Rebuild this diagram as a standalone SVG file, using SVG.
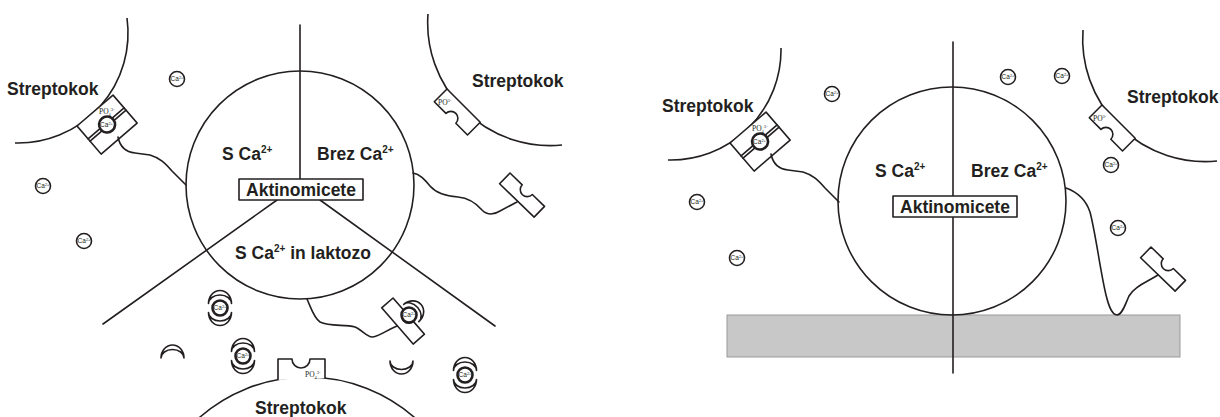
<svg xmlns="http://www.w3.org/2000/svg" width="1220" height="417" viewBox="0 0 1220 417">
  <style>
    .ln { fill: none; stroke: #231f20; stroke-width: 1.6; stroke-linecap: round; stroke-linejoin: round; }
    .cell { fill: none; stroke: #231f20; stroke-width: 1.6; }
    .box { fill: #fff; stroke: #231f20; stroke-width: 1.6; stroke-linejoin: round; }
    .ion { fill: #fff; stroke: #231f20; stroke-width: 1.6; }
    .ring { fill: #fff; stroke: #231f20; stroke-width: 2.6; }
    .lbl { font-family: "Liberation Sans", Arial, sans-serif; font-weight: bold; font-size: 17.5px; fill: #231f20; }
    .sup { font-size: 10px; }
    .ionlbl { font-family: "Liberation Sans", Arial, sans-serif; font-size: 6.5px; fill: #231f20; text-anchor: middle; }
    .po { font-family: "Liberation Serif", "Times New Roman", serif; font-size: 7.5px; fill: #231f20; }
  </style>
  <defs>
    <!-- receptor on a connector: notch on the y=0 side -->
    <path id="receptor" class="box" d="M0,0 H17 A7,7 0 0 0 31,0 H48 V15 H0 Z"/>
    <!-- phosphate site on a cell wall: notch on the outer side -->
    <path id="site" class="box" d="M0,0 V18 H16.5 A7,7 0 0 1 30.5,18 H47 V0 Z"/>
    <!-- crescent, horns on the x axis, bulging towards -y -->
    <path id="crescent" class="box" d="M-11.5,0 A11.5,13 0 0 1 11.5,0 A11.5,8.5 0 0 0 -11.5,0 Z"/>
  </defs>

  <!-- ===== left panel ===== -->
  <g id="cell-left-top">
    <path class="cell" d="M127,18 A110,110 0 0 1 15,143"/>
    <text class="lbl" x="7" y="95">Streptokok</text>
  </g>
  <g id="site-left-top">
    <g transform="translate(77,126) rotate(-40.7)">
      <rect class="box" x="0" y="0" width="47.5" height="37"/>
      <line class="ln" x1="0" y1="17" x2="47.5" y2="17" stroke-width="1.2"/>
      <line class="ln" x1="0" y1="20" x2="47.5" y2="20" stroke-width="1.2"/>
      <circle class="ring" cx="23.75" cy="18.5" r="8"/>
    </g>
    <text class="po" x="99" y="114">PO<tspan dy="1.5" font-size="4.5">4</tspan><tspan dy="-5" font-size="4.5">3-</tspan></text>
    <text class="ionlbl" x="106.5" y="127">Ca<tspan dy="-2.5" font-size="4">2+</tspan></text>
  </g>

  <g id="cell-right-top">
    <path class="cell" d="M428,14 A122.6,122.6 0 0 0 562,145"/>
    <use href="#site" transform="translate(447,89) rotate(45)"/>
    <text class="po" x="438" y="105">PO<tspan dy="-3" font-size="4.5">3-</tspan></text>
    <text class="lbl" x="472" y="87">Streptokok</text>
  </g>

  <g id="cell-bottom">
    <circle class="cell" cx="307" cy="540" r="163"/>
    <path class="box" d="M278,380 V359 H292 A9,9 0 0 0 310,359 H325 V378"/>
    <text class="po" x="305" y="377">PO<tspan dy="1.5" font-size="4.5">4</tspan><tspan dy="-5" font-size="4.5">3-</tspan></text>
    <text class="lbl" x="255" y="414">Streptokok</text>
  </g>

  <g id="actino-left">
    <circle class="cell" cx="300" cy="185" r="114"/>
    <line class="ln" x1="300" y1="25" x2="300" y2="180"/>
    <line class="ln" x1="277" y1="200" x2="103" y2="324"/>
    <line class="ln" x1="320" y1="200" x2="495" y2="326"/>
    <rect class="box" x="239" y="179" width="124" height="21"/>
    <text class="lbl" x="301" y="196" text-anchor="middle">Aktinomicete</text>
    <text class="lbl" x="222" y="160">S Ca<tspan class="sup" dy="-7">2+</tspan></text>
    <text class="lbl" x="317" y="160">Brez Ca<tspan class="sup" dy="-7">2+</tspan></text>
    <text class="lbl" x="235" y="259">S Ca<tspan class="sup" dy="-7">2+</tspan><tspan dy="7"> in laktozo</tspan></text>
  </g>

  <g id="receptor-left-free">
    <use href="#receptor" transform="translate(510,173) rotate(44)"/>
  </g>

  <g id="receptor-left-bound">
    <use href="#receptor" transform="translate(393,298) rotate(49)"/>
    <use href="#crescent" transform="translate(409,315) rotate(49) translate(0,-3)"/>
    <circle class="ring" cx="409" cy="315" r="7.5"/>
    <text class="ionlbl" x="409" y="317">Ca<tspan dy="-2.5" font-size="4">2+</tspan></text>
  </g>

  <g id="ca-pairs">
    <g transform="translate(220,308)">
      <use href="#crescent" transform="translate(0,-4.5)"/>
      <use href="#crescent" transform="translate(0,4.5) rotate(180)"/>
      <circle class="ring" r="7.5"/>
      <text class="ionlbl" y="2">Ca<tspan dy="-2.5" font-size="4">2+</tspan></text>
    </g>
    <g transform="translate(243,356)">
      <use href="#crescent" transform="translate(0,-4.5)"/>
      <use href="#crescent" transform="translate(0,4.5) rotate(180)"/>
      <circle class="ring" r="7.5"/>
      <text class="ionlbl" y="2">Ca<tspan dy="-2.5" font-size="4">2+</tspan></text>
    </g>
    <g transform="translate(465,375)">
      <use href="#crescent" transform="translate(0,-4.5)"/>
      <use href="#crescent" transform="translate(0,4.5) rotate(180)"/>
      <circle class="ring" r="7.5"/>
      <text class="ionlbl" y="2">Ca<tspan dy="-2.5" font-size="4">2+</tspan></text>
    </g>
    <use href="#crescent" transform="translate(172.5,358)"/>
    <use href="#crescent" transform="translate(401.5,361) rotate(180)"/>
  </g>

  <g id="ions-left">
    <g transform="translate(177,79)"><circle class="ion" r="7.5"/><text class="ionlbl" y="2">Ca<tspan dy="-2.5" font-size="4">2+</tspan></text></g>
    <g transform="translate(43,186)"><circle class="ion" r="7.5"/><text class="ionlbl" y="2">Ca<tspan dy="-2.5" font-size="4">2+</tspan></text></g>
    <g transform="translate(84,241)"><circle class="ion" r="7.5"/><text class="ionlbl" y="2">Ca<tspan dy="-2.5" font-size="4">2+</tspan></text></g>
  </g>

  <!-- ===== right panel ===== -->
  <rect id="surface" x="727" y="315" width="453" height="42" fill="#c8c8c8" stroke="#9a9a9a" stroke-width="1"/>

  <g id="cell-right-left">
    <path class="cell" d="M781,48 A110,110 0 0 1 668,160"/>
    <text class="lbl" x="662" y="112">Streptokok</text>
  </g>
  <g id="site-right-left">
    <g transform="translate(730,143) rotate(-40.7)">
      <rect class="box" x="0" y="0" width="47.5" height="37"/>
      <line class="ln" x1="0" y1="17" x2="47.5" y2="17" stroke-width="1.2"/>
      <line class="ln" x1="0" y1="20" x2="47.5" y2="20" stroke-width="1.2"/>
      <circle class="ring" cx="23.75" cy="18.5" r="8"/>
    </g>
    <text class="po" x="752" y="131">PO<tspan dy="1.5" font-size="4.5">4</tspan><tspan dy="-5" font-size="4.5">3-</tspan></text>
    <text class="ionlbl" x="759.5" y="144">Ca<tspan dy="-2.5" font-size="4">2+</tspan></text>
  </g>

  <g id="cell-right-right">
    <path class="cell" d="M1083,30 A122.6,122.6 0 0 0 1217,161"/>
    <use href="#site" transform="translate(1102,105) rotate(45)"/>
    <text class="po" x="1093" y="121">PO<tspan dy="-3" font-size="4.5">3-</tspan></text>
    <text class="lbl" x="1127" y="103">Streptokok</text>
  </g>

  <g id="actino-right">
    <circle class="cell" cx="952" cy="201" r="114"/>
    <line class="ln" x1="953" y1="42" x2="953" y2="373"/>
    <rect class="box" x="893" y="196" width="124" height="21"/>
    <text class="lbl" x="955" y="213" text-anchor="middle">Aktinomicete</text>
    <text class="lbl" x="875" y="177">S Ca<tspan class="sup" dy="-7">2+</tspan></text>
    <text class="lbl" x="971" y="177">Brez Ca<tspan class="sup" dy="-7">2+</tspan></text>
  </g>

  <g id="receptor-right-free">
    <use href="#receptor" transform="translate(1151,247) rotate(44)"/>
  </g>

  <g id="ions-right">
    <g transform="translate(832,94)"><circle class="ion" r="7.5"/><text class="ionlbl" y="2">Ca<tspan dy="-2.5" font-size="4">2+</tspan></text></g>
    <g transform="translate(697,202)"><circle class="ion" r="7.5"/><text class="ionlbl" y="2">Ca<tspan dy="-2.5" font-size="4">2+</tspan></text></g>
    <g transform="translate(737,258)"><circle class="ion" r="7.5"/><text class="ionlbl" y="2">Ca<tspan dy="-2.5" font-size="4">2+</tspan></text></g>
    <g transform="translate(1008,77)"><circle class="ion" r="7.5"/><text class="ionlbl" y="2">Ca<tspan dy="-2.5" font-size="4">2+</tspan></text></g>
    <g transform="translate(1062,76)"><circle class="ion" r="7.5"/><text class="ionlbl" y="2">Ca<tspan dy="-2.5" font-size="4">2+</tspan></text></g>
    <g transform="translate(1111,165)"><circle class="ion" r="7.5"/><text class="ionlbl" y="2">Ca<tspan dy="-2.5" font-size="4">2+</tspan></text></g>
    <g transform="translate(1118,228)"><circle class="ion" r="7.5"/><text class="ionlbl" y="2">Ca<tspan dy="-2.5" font-size="4">2+</tspan></text></g>
  </g>

  <!-- tethers from the actinomycete surface to the binding sites -->
  <g id="connectors">
    <path class="ln" d="M118,137 C120,147 125,152 135,153 L150,155 C160,158 165,163 172,171 L186,185"/>
    <path class="ln" d="M413,173 C420,174 425,180 430,186 C436,193 445,196 458,197 C468,198 476,203 482,210 C486,214 492,216 500,211 L517,202"/>
    <path class="ln" d="M307,299 C311,308 314,318 320,322 C330,327 345,324 355,327 C362,330 367,337 372,337 C378,337 385,331 397,326"/>
    <path class="ln" d="M771,154 C773,164 778,169 788,170 L803,172 C813,175 818,180 825,188 L839,202"/>
    <path class="ln" d="M1066,188 C1077,192 1086,200 1090,212 C1096,235 1100,270 1106,295 C1109,307 1112,315 1117,315 C1122,315 1125,305 1129,296 C1134,287 1145,283 1158,275"/>
  </g>
</svg>
